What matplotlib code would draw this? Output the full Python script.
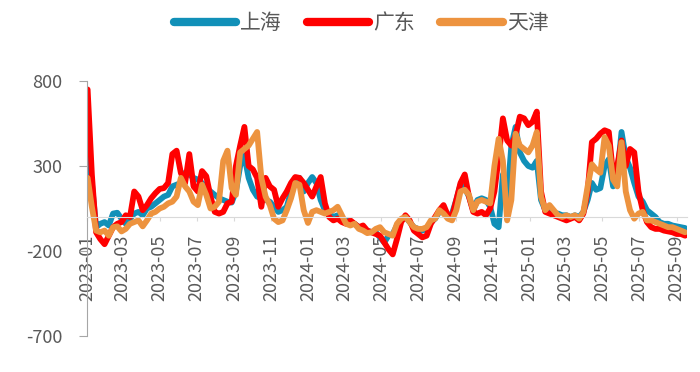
import matplotlib
matplotlib.use('Agg')
import matplotlib.pyplot as plt
import pandas as pd

plt.rcParams['font.family'] = ['Noto Sans CJK SC', 'DejaVu Sans']
plt.rcParams['axes.unicode_minus'] = False

# weekly values, first week starts 2023-01-02
start = '2023-01-02'
shanghai = [400, 200, -60, -40, -30, -50, 20, 25, -10, -40, -10, 20, 30, 10, 50, 60, 80, 100, 120, 130,
            180, 190, 200, 260, 250, 230, 220, 200, 170, 150, 130, 110, 100, 90, 85, 150, 300, 360, 230, 160,
            120, 110, 100, 90, 60,
            30, 40, 60, 150, 220, 230, 150, 200, 235, 200, 100, 40, 20, 0, 10, -10, -20, -30, -40, -60,
            -70, -80, -90, -90, -120, -150, -110, -100, -50, -20, 0, -30, -60, -70, -80, -70, -30, -10, 30, 50,
            10, 20, 100, 190, 170, 120,
            40, 100, 110, 100, 60, -40, -60, 250, 100, 420, 530, 380, 330, 300, 290, 330, 100, 40, 30, 20,
            20, 10, 10, 0, 10, 0, 30, 100, 200, 160, 170, 300, 340, 180, 250, 500, 350, 290, 200, 120,
            90, 40, 20, 0, -30, -40, -40, -50, -55, -60, -65]
guangdong = [750, 250, -90, -130, -160, -110, -60, -40, -30, 10, 0, 150, 120, 40, 70, 110, 140, 165, 170, 200,
             370, 390, 260, 200, 370, 180, 150, 270, 240, 120, 30, 20, 30, 80, 90, 300, 420, 530, 300, 280,
             230, 60, 230, 180, 160,
             60, 110, 150, 200, 235, 230, 200, 160, 120, 180, 235, 80, 0, -20, -10, -30, -40, -20, -40, -60,
             -50, -80, -90, -100, -110, -150, -190, -220, -130, -30, 10, -20, -80, -100, -120, -110, -40, 0, 40, 70,
             10, 0, 100, 200, 250, 120,
             30, 20, 30, 10, 50, 150, 350, 580, 450, 420, 480, 590, 580, 540, 560, 620, 150, 30, 20, 10,
             0, -10, -20, -10, 0, -20, 20, 150, 440, 460, 490, 510, 500, 250, 300, 450, 300, 400, 380, 150,
             40, -30, -60, -70, -70, -80, -85, -90, -100, -100, -110]
tianjin = [230, 60, -80, -90, -80, -110, -60, -55, -85, -70, -40, -30, -20, -55, -20, 20, 30, 50, 60, 80,
           90, 120, 230, 180, 150, 90, 70, 190, 130, 50, 60, 90, 330, 390, 170, 130, 380, 400, 420, 460,
           500, 230, 120, 70, -10,
           -30, -20, 40, 110, 200, 190, 40, -35, 30, 40, 30, 20, 30, 40, 60, 10, -40, -50, -40, -70,
           -80, -95, -90, -70, -60, -90, -100, -110, -40, -10, 0, -30, -60, -70, -70, -60, -20, -10, 40, 20,
           -10, -20, 40, 150, 160, 130,
           40, 90, 100, 90, 80, 300, 460, 330, -20, 100, 490, 420, 400, 380, 420, 500, 120, 40, 70, 40,
           10, 0, 10, 0, 10, -10, 30, 180, 310, 280, 260, 470, 420, 220, 180, 440, 150, 40, -10, 20,
           30, -20, -20, -30, -40, -50, -60, -60, -70, -80, -90]

names = ['上海', '广东', '天津']
colors = ['#1190b8', '#ff0000', '#ed933f']
yticks = [800, 300, -200, -700]

dates = pd.date_range(start, periods=len(shanghai), freq='7D')
xticks = pd.date_range('2023-01-01', '2025-09-01', freq='2MS')

fig = plt.figure(figsize=(7, 3.72), dpi=100)
ax = fig.add_axes([0.1243, 0.0968, 0.857, 0.6855])

for s, n, c in zip([shanghai, guangdong, tianjin], names, colors):
    ax.plot(dates, s, color=c, lw=4.2, label=n,
            solid_joinstyle='round', solid_capstyle='round')

for sp in ['top', 'right']:
    ax.spines[sp].set_visible(False)
ax.spines['left'].set_color('#a6a6a6')
ax.spines['bottom'].set_position(('data', 0))
ax.spines['bottom'].set_color('#d9d9d9')

ax.set_ylim(-700, 800)
ax.set_yticks(yticks)
ax.set_xlim(pd.Timestamp('2023-01-01'), dates[-1] + pd.Timedelta(days=3))
ax.set_xticks(xticks)
ax.set_xticklabels([d.strftime('%Y-%m') for d in xticks])

ax.tick_params(axis='y', length=6, color='#a6a6a6', labelsize=13, labelcolor='#595959', pad=12)
ax.tick_params(axis='x', length=3, color='#d9d9d9', labelsize=13, labelcolor='#595959', pad=10,
               labelrotation=90)

h, l = ax.get_legend_handles_labels()
leg = fig.legend(h, l, loc='center', bbox_to_anchor=(0.516, 0.938), ncol=3, frameon=False,
                 fontsize=15, handlelength=3, handletextpad=0.2, columnspacing=1.2,
                 labelcolor='#595959')
for line in leg.get_lines():
    line.set_linewidth(6)

fig.savefig('out.png', dpi=100)
